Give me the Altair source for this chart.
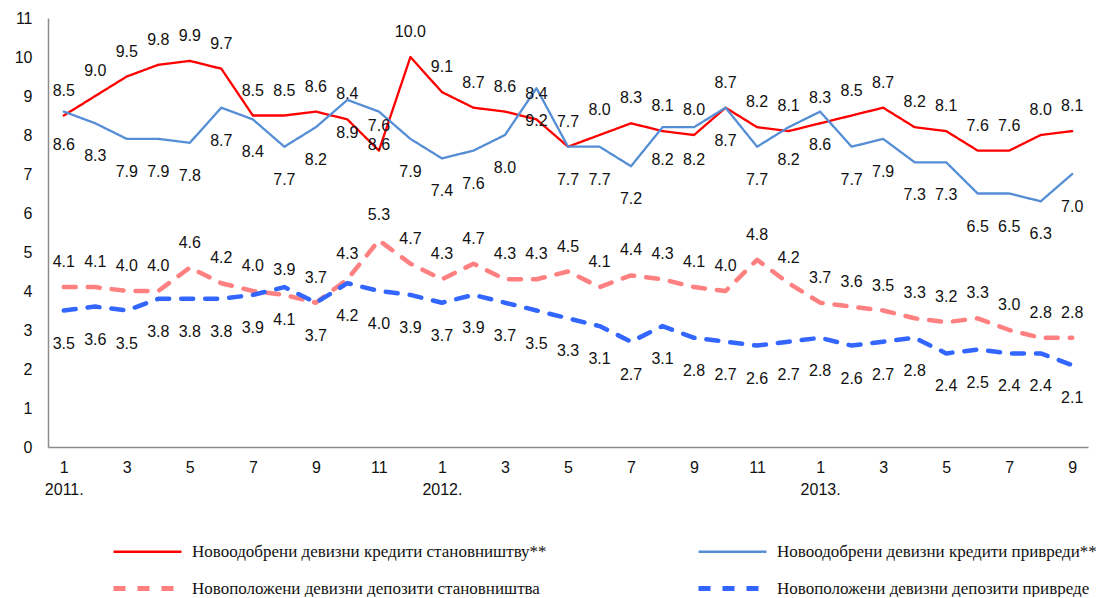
import altair as alt
import pandas as pd

months = list(range(1, 13)) + list(range(1, 13)) + list(range(1, 10))
years = [2011] * 12 + [2012] * 12 + [2013] * 9

series_names = [
    "Новоодобрени девизни кредити становништву**",
    "Новоодобрени девизни кредити привреди**",
    "Новоположени девизни депозити становништва",
    "Новоположени девизни депозити привреде",
]

credit_households = [8.5, 9.0, 9.5, 9.8, 9.9, 9.7, 8.5, 8.5, 8.6, 8.4, 7.6, 10.0,
                     9.1, 8.7, 8.6, 8.4, 7.7, 8.0, 8.3, 8.1, 8.0, 8.7, 8.2, 8.1,
                     8.3, 8.5, 8.7, 8.2, 8.1, 7.6, 7.6, 8.0, 8.1]
credit_enterprises = [8.6, 8.3, 7.9, 7.9, 7.8, 8.7, 8.4, 7.7, 8.2, 8.9, 8.6, 7.9,
                      7.4, 7.6, 8.0, 9.2, 7.7, 7.7, 7.2, 8.2, 8.2, 8.7, 7.7, 8.2,
                      8.6, 7.7, 7.9, 7.3, 7.3, 6.5, 6.5, 6.3, 7.0]
deposit_households = [4.1, 4.1, 4.0, 4.0, 4.6, 4.2, 4.0, 3.9, 3.7, 4.3, 5.3, 4.7,
                      4.3, 4.7, 4.3, 4.3, 4.5, 4.1, 4.4, 4.3, 4.1, 4.0, 4.8, 4.2,
                      3.7, 3.6, 3.5, 3.3, 3.2, 3.3, 3.0, 2.8, 2.8]
deposit_enterprises = [3.5, 3.6, 3.5, 3.8, 3.8, 3.8, 3.9, 4.1, 3.7, 4.2, 4.0, 3.9,
                       3.7, 3.9, 3.7, 3.5, 3.3, 3.1, 2.7, 3.1, 2.8, 2.7, 2.6, 2.7,
                       2.8, 2.6, 2.7, 2.8, 2.4, 2.5, 2.4, 2.4, 2.1]

y_ticks = list(range(0, 12))

colors = ["#FF0000", "#558ED5", "#FF8080", "#3366FF"]
dashes = [[1, 0], [1, 0], [12, 12], [12, 12]]

periods = [f"{y}-{m:02d}" for y, m in zip(years, months)]
rows = []
for name, vals in zip(series_names, [credit_households, credit_enterprises,
                                     deposit_households, deposit_enterprises]):
    for p, v in zip(periods, vals):
        rows.append({"period": p, "value": v, "series": name})
df = pd.DataFrame(rows)

label_expr = (
    "substring(datum.value, 5, 7) == '01' ? "
    "['' + toNumber(substring(datum.value, 5, 7)), substring(datum.value, 0, 4) + '.'] : "
    "(toNumber(substring(datum.value, 5, 7)) % 2 == 1 ? '' + toNumber(substring(datum.value, 5, 7)) : '')"
)

x_enc = alt.X("period:O", sort=periods,
              scale=alt.Scale(type="point", padding=0.5),
              axis=alt.Axis(title=None, labelAngle=0, labelExpr=label_expr,
                            labelPadding=12, labelLineHeight=22))
y_enc = alt.Y("value:Q", scale=alt.Scale(domain=[0, 11], nice=False, zero=True),
              axis=alt.Axis(title=None, values=y_ticks, labelPadding=16))

dashed_names = [series_names[2], series_names[3]]
width_expr = ("indexof(['" + dashed_names[0] + "', '" + dashed_names[1] +
              "'], datum.value) >= 0 ? 5 : 2.5")

legend = alt.Legend(
    title=None,
    symbolType="M-3.4,0H3.4",
    symbolStrokeWidth=alt.ExprRef(expr=width_expr),
    labelFont="Liberation Serif, DejaVu Serif, serif",
    labelFontSize=17,
    labelColor="#111",
    labelLimit=0,
    labelOffset=36,
)

base = alt.Chart(df)

lines = base.mark_line(strokeCap="round", strokeJoin="round").encode(
    x=x_enc,
    y=y_enc,
    color=alt.Color("series:N", sort=series_names,
                    scale=alt.Scale(domain=series_names, range=colors),
                    legend=legend),
    strokeDash=alt.StrokeDash("series:N", sort=series_names,
                              scale=alt.Scale(domain=series_names, range=dashes),
                              legend=legend),
    strokeWidth=alt.condition(
        alt.FieldOneOfPredicate(field="series", oneOf=dashed_names),
        alt.value(4.5), alt.value(2.3)),
)

above = base.transform_filter(
    alt.FieldOneOfPredicate(field="series", oneOf=[series_names[0], series_names[2]])
).mark_text(dy=-25, fontSize=16, font="Liberation Sans", color="#111").encode(
    x=x_enc, y=y_enc, text=alt.Text("value:Q", format=".1f"))

below = base.transform_filter(
    alt.FieldOneOfPredicate(field="series", oneOf=[series_names[1], series_names[3]])
).mark_text(dy=33, fontSize=16, font="Liberation Sans", color="#111").encode(
    x=x_enc, y=y_enc, text=alt.Text("value:Q", format=".1f"))

chart = alt.layer(lines, above, below).properties(
    width=1040, height=429,
    autosize=alt.AutoSizeParams(type="none"),
    padding={"left": 40, "top": 10, "right": 8, "bottom": 150},
).configure_view(stroke=None).configure_axis(
    domainColor="#8C8C8C", domainWidth=1.5, ticks=False, grid=False,
    labelFont="Liberation Sans", labelFontSize=16, labelColor="#111",
).configure_legend(
    orient="none", legendX=91, legendY=525, columns=2, direction="horizontal",
    columnPadding=141, rowPadding=18, symbolSize=400,
)

chart.save("out.html", embed_options={"renderer": "svg", "actions": False})
